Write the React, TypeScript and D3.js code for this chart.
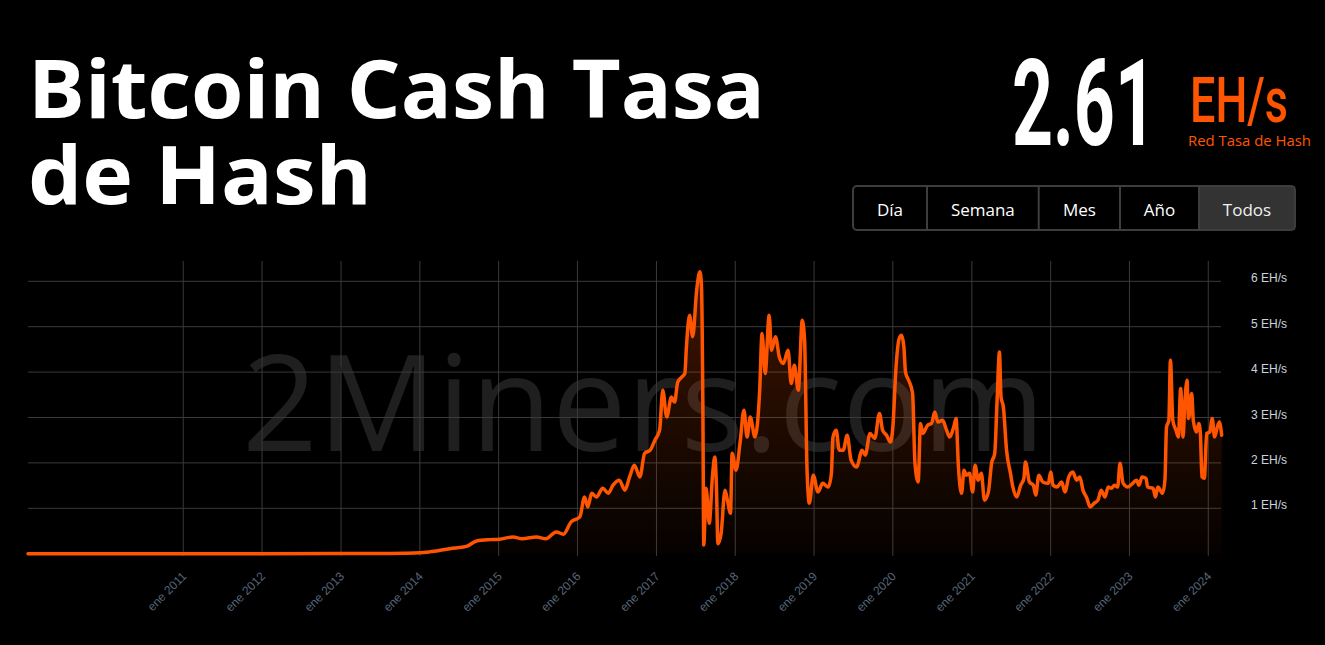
import React from "react";
import * as d3 from "d3";

// ---- data (decimal years, EH/s) ----
const years: number[] = [
  2009.03, 2010.0, 2011.0, 2012.0, 2013.0, 2013.5, 2013.8, 2014.0,
  2014.12, 2014.38, 2014.59, 2014.72, 2014.89, 2015.01, 2015.18, 2015.3, 2015.48, 2015.6,
  2015.73, 2015.82, 2015.92, 2016.03, 2016.09, 2016.13, 2016.18, 2016.24, 2016.32, 2016.39,
  2016.45, 2016.53, 2016.6, 2016.66, 2016.72, 2016.79, 2016.85, 2016.92, 2016.98, 2017.04,
  2017.08, 2017.13, 2017.19, 2017.23, 2017.27, 2017.32, 2017.36, 2017.38, 2017.42, 2017.46,
  2017.51, 2017.55, 2017.57, 2017.59, 2017.6, 2017.63, 2017.67, 2017.71, 2017.74, 2017.76,
  2017.78, 2017.82, 2017.87, 2017.9, 2017.94, 2017.96, 2018.01, 2018.06, 2018.11, 2018.15,
  2018.19, 2018.25, 2018.31, 2018.34, 2018.38, 2018.43, 2018.46, 2018.51, 2018.56, 2018.61,
  2018.67, 2018.71, 2018.75, 2018.8, 2018.85, 2018.88, 2018.91, 2018.94, 2018.99, 2019.05,
  2019.11, 2019.18, 2019.22, 2019.24, 2019.28, 2019.32, 2019.37, 2019.42, 2019.47, 2019.54,
  2019.61, 2019.65, 2019.71, 2019.77, 2019.83, 2019.87, 2019.92, 2019.97, 2020.0, 2020.04,
  2020.08, 2020.11, 2020.14, 2020.16, 2020.2, 2020.25, 2020.28, 2020.32, 2020.35, 2020.38,
  2020.44, 2020.49, 2020.53, 2020.57, 2020.63, 2020.68, 2020.72, 2020.77, 2020.8, 2020.83,
  2020.87, 2020.9, 2020.93, 2020.97, 2021.01, 2021.04, 2021.08, 2021.12, 2021.16, 2021.21,
  2021.25, 2021.29, 2021.32, 2021.35, 2021.37, 2021.4, 2021.44, 2021.49, 2021.52, 2021.57,
  2021.62, 2021.66, 2021.68, 2021.73, 2021.78, 2021.81, 2021.85, 2021.9, 2021.97, 2022.0,
  2022.03, 2022.08, 2022.14, 2022.18, 2022.23, 2022.28, 2022.33, 2022.37, 2022.41, 2022.46,
  2022.5, 2022.55, 2022.6, 2022.64, 2022.69, 2022.73, 2022.77, 2022.81, 2022.85, 2022.88,
  2022.92, 2022.98, 2023.04, 2023.09, 2023.12, 2023.16, 2023.21, 2023.23, 2023.3, 2023.33,
  2023.36, 2023.42, 2023.45, 2023.47, 2023.5, 2023.52, 2023.55, 2023.59, 2023.62, 2023.65,
  2023.68, 2023.7, 2023.73, 2023.75, 2023.79, 2023.81, 2023.85, 2023.88, 2023.9, 2023.92,
  2023.95, 2023.98, 2024.02, 2024.05, 2024.08, 2024.11, 2024.14, 2024.17,
];

const hashrate: number[] = [
  0, 0, 0, 0.001, 0.002, 0.005, 0.01, 0.02,
  0.04, 0.11, 0.16, 0.28, 0.31, 0.32, 0.37, 0.33, 0.37, 0.33,
  0.48, 0.43, 0.7, 0.81, 1.25, 1.03, 1.33, 1.25, 1.44, 1.33,
  1.51, 1.62, 1.4, 1.69, 1.95, 1.69, 2.21, 2.28, 2.5, 2.72,
  3.6, 3.01, 3.45, 3.34, 3.78, 3.89, 3.97, 4.55, 5.25, 4.78,
  5.8, 6.21, 5.96, 3.0, 0.19, 1.44, 0.67, 1.69, 2.13, 1.55,
  0.22, 0.44, 1.4, 1.18, 0.89, 2.21, 1.84, 2.43, 3.16, 2.57,
  3.01, 2.57, 3.6, 4.85, 3.97, 5.25, 4.48, 4.78, 4.33, 4.19,
  4.48, 3.75, 4.15, 3.6, 5.14, 4.7, 1.91, 1.11, 1.73, 1.36,
  1.55, 1.47, 1.77, 2.57, 2.72, 2.28, 2.28, 2.61, 2.06, 1.91,
  2.28, 2.17, 2.65, 2.54, 3.09, 2.72, 2.61, 2.46, 2.79, 4.11,
  4.74, 4.81, 4.55, 4.0, 3.82, 3.53, 1.99, 1.58, 2.87, 2.65,
  2.83, 2.87, 3.12, 2.9, 2.94, 2.72, 2.57, 2.79, 2.98, 1.91,
  1.33, 1.84, 1.73, 1.77, 1.36, 1.95, 1.62, 1.77, 1.18, 1.36,
  1.99, 2.21, 3.38, 4.44, 3.45, 3.23, 2.28, 1.77, 1.47, 1.25,
  1.51, 1.66, 2.02, 1.58, 1.51, 1.29, 1.73, 1.58, 1.55, 1.8,
  1.51, 1.47, 1.58, 1.36, 1.69, 1.8, 1.62, 1.69, 1.4, 1.22,
  1.03, 1.11, 1.18, 1.4, 1.25, 1.47, 1.44, 1.51, 1.47, 1.99,
  1.55, 1.47, 1.55, 1.62, 1.51, 1.69, 1.66, 1.47, 1.44, 1.25,
  1.47, 1.33, 1.62, 2.79, 2.94, 4.26, 2.94, 2.72, 2.57, 3.64,
  2.57, 3.23, 3.82, 2.98, 3.53, 2.94, 2.68, 2.87, 2.65, 1.69,
  1.66, 2.65, 2.68, 2.98, 2.57, 2.76, 2.9, 2.61,
];

const yTicks: number[] = [1, 2, 3, 4, 5, 6];
const xTickYears: number[] = [2011, 2012, 2013, 2014, 2015, 2016, 2017, 2018, 2019, 2020, 2021, 2022, 2023, 2024];
const buttons: string[] = ["Día", "Semana", "Mes", "Año", "Todos"];
const buttonEdges: number[] = [853, 927, 1038.7, 1120, 1199, 1295];
const currentValue = "2.61";

const ORANGE = "#ff5500";

function toDate(y: number): Date {
  const yr = Math.floor(y);
  const s = Date.UTC(yr, 0, 1);
  const e = Date.UTC(yr + 1, 0, 1);
  return new Date(s + (y - yr) * (e - s));
}

export default function App() {
  const W = 1325;
  const H = 645;
  const data = years.map((y, i) => ({ d: toDate(y), v: hashrate[i] }));

  const x = d3
    .scaleTime()
    .domain([data[0].d, data[data.length - 1].d])
    .range([28, 1221.7]);
  const y = d3.scaleLinear().domain([0, 6]).range([553.7, 281.3]);

  const line = d3
    .line<{ d: Date; v: number }>()
    .x((p) => x(p.d))
    .y((p) => y(p.v))
    .curve(d3.curveMonotoneX);
  const area = d3
    .area<{ d: Date; v: number }>()
    .x((p) => x(p.d))
    .y0(y(0))
    .y1((p) => y(p.v))
    .curve(d3.curveMonotoneX);

  const gridTop = 261;
  const gridBottom = 556;

  return (
    <div style={{ position: "fixed", left: 0, top: 0, width: W, height: H, background: "#000" }}>
      <svg width={W} height={H} style={{ display: "block", background: "#000" }}>
        <defs>
          <linearGradient id="fillGrad" gradientUnits="userSpaceOnUse" x1="0" y1="270" x2="0" y2="554">
            <stop offset="0" stopColor={ORANGE} stopOpacity={0.26} />
            <stop offset="0.6" stopColor={ORANGE} stopOpacity={0.11} />
            <stop offset="1" stopColor={ORANGE} stopOpacity={0.02} />
          </linearGradient>
        </defs>

        {/* Title */}
        <g fontFamily="'Open Sans', sans-serif" fontWeight={700} fill="#fff" fontSize={80}>
          <text x={28} y={118} textLength={737} lengthAdjust="spacingAndGlyphs">
            Bitcoin Cash Tasa
          </text>
          <text x={28} y={204} textLength={344} lengthAdjust="spacingAndGlyphs">
            de Hash
          </text>
        </g>

        {/* Current value */}
        <text
          x={1012}
          y={145}
          fill="#fff"
          fontFamily="Roboto, sans-serif"
          fontWeight={700}
          fontSize={120}
          textLength={144}
          lengthAdjust="spacingAndGlyphs"
        >
          {currentValue}
        </text>
        <text
          x={1190}
          y={122}
          fill={ORANGE}
          fontFamily="Roboto, sans-serif"
          fontWeight={500}
          fontSize={63}
          textLength={98}
          lengthAdjust="spacingAndGlyphs"
        >
          EH/s
        </text>
        <text
          x={1188}
          y={146}
          fill={ORANGE}
          fontFamily="'Open Sans', sans-serif"
          fontSize={15}
          textLength={123}
          lengthAdjust="spacingAndGlyphs"
        >
          Red Tasa de Hash
        </text>

        {/* Buttons */}
        <g>
          <rect
            x={buttonEdges[4]}
            y={186}
            width={buttonEdges[5] - buttonEdges[4]}
            height={44}
            fill="#333"
          />
          <rect
            x={buttonEdges[0]}
            y={186}
            width={buttonEdges[5] - buttonEdges[0]}
            height={44}
            rx={4}
            fill="none"
            stroke="#3d3d3d"
            strokeWidth={2}
          />
          {buttonEdges.slice(1, 5).map((bx, i) => (
            <line key={i} x1={bx} x2={bx} y1={186} y2={230} stroke="#3d3d3d" strokeWidth={2} />
          ))}
          {buttons.map((b, i) => (
            <text
              key={b}
              x={(buttonEdges[i] + buttonEdges[i + 1]) / 2}
              y={216}
              textAnchor="middle"
              fill={i === 4 ? "#f0f0f0" : "#fff"}
              fontFamily="'Open Sans', sans-serif"
              fontSize={17}
            >
              {b}
            </text>
          ))}
        </g>

        {/* Watermark */}
        <text
          x={242}
          y={451}
          fill="#1f1f1f"
          fontFamily="'Open Sans', sans-serif"
          fontSize={133}
          textLength={803}
          lengthAdjust="spacingAndGlyphs"
        >
          2Miners.com
        </text>

        {/* Grid */}
        <g stroke="#3a3a3a" strokeWidth={1}>
          {yTicks.map((t) => (
            <line key={"h" + t} x1={28} x2={1221} y1={y(t)} y2={y(t)} />
          ))}
          {xTickYears.map((yr) => {
            const xx = x(toDate(yr));
            return <line key={"v" + yr} x1={xx} x2={xx} y1={gridTop} y2={gridBottom} />;
          })}
        </g>

        {/* Area + line */}
        <path d={area(data) || ""} fill="url(#fillGrad)" />
        <path
          d={line(data) || ""}
          fill="none"
          stroke={ORANGE}
          strokeWidth={3.5}
          strokeLinejoin="round"
          strokeLinecap="round"
        />

        {/* Y labels */}
        <g fontFamily="Arial, 'Liberation Sans', sans-serif" fontSize={12} fill="#c9d3df">
          {yTicks.map((t) => (
            <text key={"yl" + t} x={1251} y={y(t) + 1}>
              {t} EH/s
            </text>
          ))}
        </g>

        {/* X labels */}
        <g fontFamily="Arial, 'Liberation Sans', sans-serif" fontSize={12} fill="#56657a">
          {xTickYears.map((yr) => {
            const xx = x(toDate(yr));
            return (
              <text
                key={"xl" + yr}
                transform={`translate(${xx + 1},${574}) rotate(-45)`}
                textAnchor="end"
                dy="0.35em"
              >
                {`ene ${yr}`}
              </text>
            );
          })}
        </g>
      </svg>
    </div>
  );
}
